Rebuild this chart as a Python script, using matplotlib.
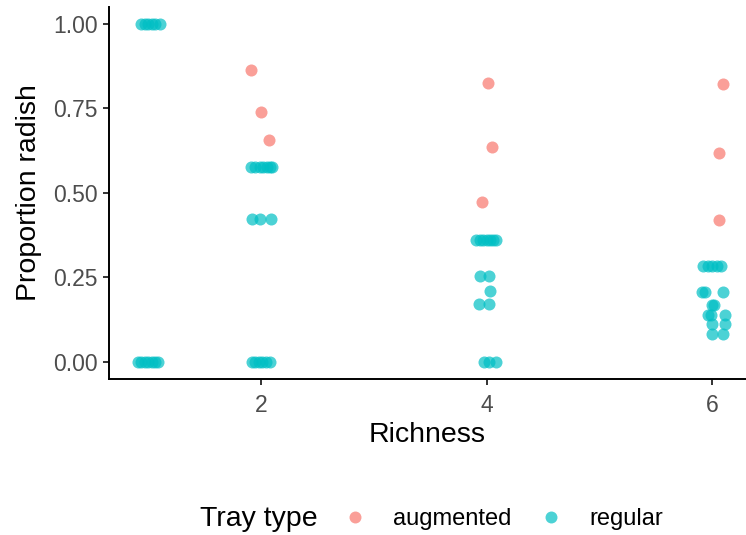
import matplotlib
matplotlib.use("Agg")
import matplotlib.pyplot as plt
from matplotlib.lines import Line2D

plt.rcParams['font.family'] = ['Liberation Sans', 'DejaVu Sans']

# jittered richness positions and proportion of radish
reg_x = [0.94, 0.97, 1.00, 1.03, 1.06, 1.10,
         0.91, 0.94, 0.97, 1.00, 1.03, 1.06, 1.09,
         1.91, 1.95, 1.99, 2.02, 2.05, 2.08, 2.10,
         1.92, 1.99, 2.09,
         1.92, 1.95, 1.98, 2.01, 2.04, 2.08,
         3.91, 3.94, 3.97, 4.00, 4.03, 4.06, 4.08,
         3.94, 4.02,
         4.03,
         3.93, 4.02,
         3.98, 4.02, 4.08,
         5.92, 5.96, 6.00, 6.04, 6.08,
         5.91, 5.94, 6.10,
         6.00, 6.02,
         5.96, 5.99, 6.11,
         6.00, 6.11,
         6.00, 6.10]
reg_y = [1.0] * 6 + [0.0] * 7 + \
        [0.577] * 7 + [0.422] * 3 + [0.0] * 6 + \
        [0.360] * 7 + [0.255] * 2 + [0.209] + [0.171] * 2 + [0.0] * 3 + \
        [0.284] * 5 + [0.207] * 3 + [0.168] * 2 + [0.138] * 3 + [0.111] * 2 + [0.082] * 2

aug_x = [1.91, 2.00, 2.07, 4.01, 4.05, 3.96, 6.10, 6.065, 6.06]
aug_y = [0.864, 0.738, 0.655, 0.826, 0.637, 0.473, 0.821, 0.617, 0.420]

tray_labels = ['augmented', 'regular']
tray_colors = ['#F8766D', '#00BFC4']

W, H = 746, 535
fig = plt.figure(figsize=(W / 100, H / 100), dpi=100)
ax = fig.add_axes([109 / W, 1 - 378.6 / H, (W - 109) / W, (378.6 - 7) / H])

ax.scatter(aug_x, aug_y, s=75, color=tray_colors[0], alpha=0.7, linewidths=0, zorder=3)
ax.scatter(reg_x, reg_y, s=75, color=tray_colors[1], alpha=0.7, linewidths=0, zorder=3)

ax.set_xlim(0.652, 6.30)
ax.set_ylim(-0.05, 1.05)
ax.set_xticks([2, 4, 6])
ax.set_yticks([0, 0.25, 0.5, 0.75, 1.0])
ax.set_yticklabels(['0.00', '0.25', '0.50', '0.75', '1.00'])

for s in ['top', 'right']:
    ax.spines[s].set_visible(False)
for s in ['left', 'bottom']:
    ax.spines[s].set_linewidth(1.4)
    ax.spines[s].set_color('black')
ax.tick_params(axis='both', length=4.5, width=1.4, color='#333333',
               labelsize=16.5, labelcolor='#4D4D4D', pad=3.5)
ax.tick_params(axis='x', pad=6.5)

ax.set_xlabel('Richness', fontsize=20.5, color='black', labelpad=4)
ax.set_ylabel('Proportion radish', fontsize=20.5, color='black', labelpad=8)

# legend at the bottom, title on the left
fig.text(200 / W, 1 - 519 / H, 'Tray type', fontsize=20.5, ha='left', va='center')
handles = [Line2D([], [], marker='o', linestyle='', markersize=8.6,
                  markerfacecolor=c, markeredgewidth=0, alpha=0.7)
           for c in tray_colors]
fig.legend(handles, tray_labels, loc='center left',
           bbox_to_anchor=(343 / W, 1 - 519 / H), ncol=2, frameon=False,
           fontsize=17, handlelength=1.0, handletextpad=1.1,
           columnspacing=1.2, borderpad=0, borderaxespad=0)

fig.savefig('out.png', dpi=100)
